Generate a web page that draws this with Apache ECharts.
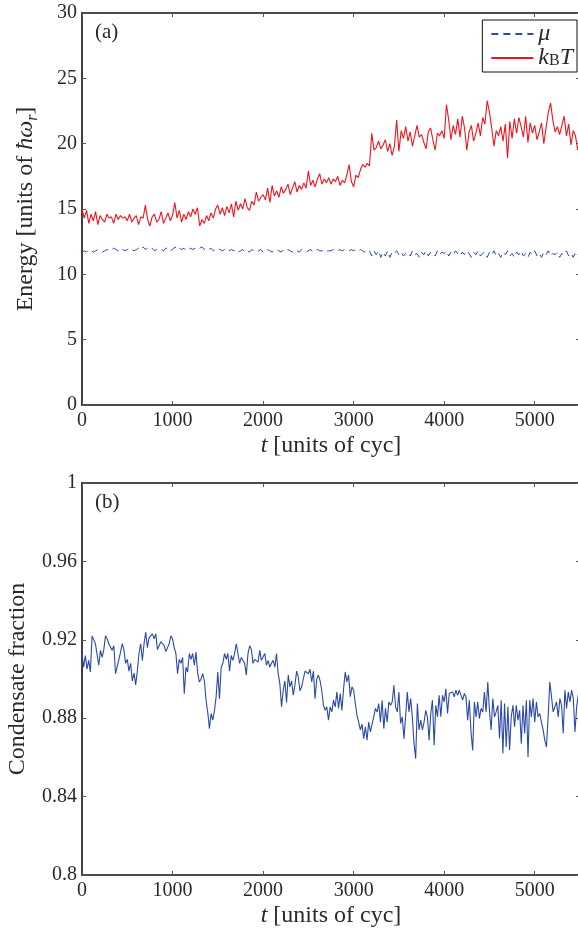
<!DOCTYPE html>
<html>
<head>
<meta charset="utf-8">
<script src="https://cdn.jsdelivr.net/npm/echarts@6/dist/echarts.min.js"></script>
<style>
html,body{margin:0;padding:0;background:#fff;}
#chart{width:578px;height:930px;}
</style>
</head>
<body>
<div id="chart"></div>
<script>
// ---- data ----
const T_MAX = 5500;
const xTicks = [0, 1000, 2000, 3000, 4000, 5000];

// k_B T, sampled evenly over 0..5500
const kBT = [
15.0,14.3,14.9,13.9,14.6,14.1,14.8,13.8,14.5,14.2,
14.0,14.6,14.3,14.4,13.9,14.6,14.2,14.5,14.3,14.4,
14.1,14.6,14.0,14.3,14.5,13.8,14.4,14.3,15.3,14.2,
13.7,14.4,14.6,14.0,14.2,14.8,13.9,14.3,14.7,14.1,
14.5,15.5,14.3,14.9,14.0,14.6,14.2,14.8,14.4,15.0,
14.6,15.1,13.7,14.2,13.9,14.5,14.1,14.7,14.3,15.0,
15.3,14.6,15.1,14.5,15.2,14.7,15.4,14.4,15.6,14.9,
15.4,15.0,15.8,15.1,14.9,15.6,15.3,16.3,15.6,15.9,
16.1,15.7,16.6,15.5,16.8,16.0,16.4,15.9,16.7,16.2,
16.5,16.9,16.1,16.6,17.1,16.3,16.8,16.5,17.0,16.6,
17.9,16.8,17.2,16.7,17.3,17.7,16.9,17.3,17.0,17.4,
16.9,17.3,17.1,17.5,16.8,17.2,17.0,17.6,18.4,17.1,
16.7,17.6,17.4,18.0,18.4,18.2,18.5,18.3,20.8,19.5,
19.7,20.2,19.6,19.9,20.3,19.4,20.0,19.1,19.8,21.8,
19.4,21.0,20.4,21.3,20.2,20.9,19.8,20.6,21.4,20.5,
20.7,20.1,19.6,20.9,21.2,20.3,19.5,20.8,20.6,21.0,
20.4,23.0,21.8,20.3,21.4,20.7,21.9,20.5,22.1,21.2,
19.5,20.9,21.4,20.2,20.8,21.6,20.6,22.0,21.5,23.3,
22.4,21.2,19.8,21.0,20.6,21.3,20.2,21.5,18.9,21.7,
20.4,21.9,20.8,22.0,21.3,20.5,22.1,20.1,21.6,20.8,
21.4,20.3,20.9,21.6,20.0,21.2,22.4,23.1,21.8,20.9,
21.3,20.7,21.4,22.1,20.6,21.5,19.9,21.0,20.6,19.5,
20.5
];

// mu, sampled evenly over 0..5500
const mu = [
11.7,11.8,11.7,11.9,11.8,11.7,11.8,11.9,11.8,11.7,
11.8,11.9,11.8,11.9,12.0,11.9,11.8,12.0,11.9,11.8,
11.9,12.0,11.9,11.8,11.9,12.0,11.9,12.1,11.9,12.0,
11.9,12.0,11.8,11.9,12.0,11.9,11.8,12.0,12.0,11.8,
11.9,12.1,11.9,12.0,11.9,12.0,11.8,11.9,12.0,11.9,
12.0,11.9,12.0,12.1,11.9,12.0,11.9,12.0,11.8,11.9,
12.0,11.9,11.8,11.9,12.0,11.8,11.9,11.8,11.9,11.7,
11.8,11.9,11.7,11.8,11.7,11.9,11.8,11.7,11.8,11.9,
11.7,11.8,11.9,11.8,11.7,11.8,11.9,11.8,11.7,11.9,
11.8,11.9,11.8,11.7,11.9,11.8,11.7,11.9,11.8,11.7,
11.8,11.9,11.7,11.8,11.9,11.8,11.8,11.9,11.8,11.8,
11.8,11.9,11.8,11.8,11.9,11.8,11.9,11.8,11.8,11.9,
11.8,11.9,11.8,11.9,11.8,11.7,11.9,11.8,11.4,11.8,
11.5,11.8,11.3,11.7,11.4,11.8,11.3,11.7,11.6,11.8,
11.5,11.7,11.4,11.6,11.7,11.4,11.8,11.5,11.6,11.3,
11.7,11.5,11.8,11.4,11.7,11.6,11.4,11.8,11.5,11.7,
11.6,11.8,11.4,11.7,11.5,11.8,11.6,11.4,11.7,11.5,
11.8,11.6,11.3,11.7,11.5,11.8,11.4,11.6,11.7,11.3,
11.7,11.5,11.8,11.4,11.6,11.3,11.7,11.5,11.8,11.4,
11.6,11.3,11.7,11.5,11.8,11.4,11.6,11.3,11.7,11.5,
11.8,11.4,11.6,11.3,11.7,11.5,11.8,11.4,11.6,11.5,
11.7,11.3,11.6,11.5,11.8,11.4,11.6,11.3,11.7,11.5,
11.7
];

// condensate fraction, sampled evenly over 0..5500
const condFrac = [
0.913,0.906,0.912,0.905,0.9095,0.9036,0.922,0.9227,0.918,0.9188,
0.907,0.9146,0.911,0.915,0.922,0.9205,0.918,0.918,0.9146,0.917,
0.9027,0.9027,0.910,0.9137,0.918,0.915,0.908,0.910,0.904,0.908,
0.899,0.903,0.897,0.904,0.913,0.918,0.9095,0.918,0.924,0.916,
0.921,0.922,0.923,0.9205,0.923,0.915,0.9146,0.919,0.920,0.917,
0.914,0.916,0.918,0.922,0.9205,0.916,0.913,0.9027,0.910,0.908,
0.911,0.8925,0.906,0.9036,0.913,0.910,0.913,0.907,0.9137,0.9027,
0.8985,0.900,0.9027,0.899,0.889,0.883,0.8747,0.8824,0.879,0.884,
0.891,0.9036,0.890,0.906,0.908,0.913,0.910,0.913,0.904,0.912,
0.9095,0.913,0.918,0.913,0.908,0.911,0.912,0.908,0.902,0.913,
0.917,0.915,0.908,0.910,0.911,0.9086,0.9146,0.9095,0.9086,0.913,
0.907,0.9095,0.906,0.908,0.9095,0.906,0.913,0.9027,0.8976,0.8858,
0.8942,0.899,0.888,0.902,0.896,0.899,0.8917,0.897,0.904,0.901,
0.894,0.896,0.900,0.904,0.904,0.9027,0.905,0.8985,0.904,0.890,
0.900,0.902,0.899,0.894,0.8866,0.884,0.8858,0.879,0.8858,0.8832,
0.8892,0.8858,0.8934,0.885,0.8926,0.884,0.895,0.9036,0.8985,0.902,
0.891,0.896,0.8943,0.8875,0.8815,0.878,0.874,0.877,0.8696,0.8756,
0.8688,0.878,0.873,0.874,0.8807,0.885,0.8832,0.8875,0.878,0.8892,
0.8747,0.885,0.878,0.8883,0.8866,0.8883,0.8968,0.8858,0.8832,0.8934,
0.8773,0.8807,0.8696,0.8807,0.8934,0.8832,0.890,0.8807,0.867,0.8594,
0.8875,0.874,0.879,0.874,0.878,0.884,0.8807,0.8688,0.8824,0.8892,
0.8662,0.8866,0.8807,0.8917,0.8807,0.8917,0.8883,0.895,0.8824,0.8926,
0.8917,0.8934,0.8909,0.8943,0.8917,0.8943,0.8934,0.8892,0.8926,0.8909,
0.879,0.8892,0.873,0.8636,0.8883,0.8807,0.8883,0.8798,0.885,0.8832,
0.8934,0.8832,0.8985,0.884,0.874,0.890,0.8807,0.8832,0.8866,0.8696,
0.8892,0.862,0.8875,0.8653,0.8858,0.8636,0.8807,0.8866,0.8756,0.8866,
0.879,0.884,0.867,0.8866,0.8722,0.8892,0.8602,0.8892,0.8807,0.890,
0.878,0.8883,0.8807,0.8824,0.878,0.874,0.8688,0.8653,0.8807,0.8985,
0.891,0.8832,0.884,0.8883,0.8807,0.890,0.8866,0.8722,0.8943,0.885,
0.8934,0.8883,0.8943,0.890,0.873,0.8858,0.892,0.880
];

// ---- build pairs over an even time grid ----
function pairs(vals) {
  const step = T_MAX / (vals.length - 1);
  return vals.map((v, i) => [i * step, v]);
}

const FONT = 'Liberation Serif';
const AX = '#111';
const TXT = '#2a2a2a';
const NAME_SIZE = 24;

function plainNum(v) { return String(Math.round(v * 1000) / 1000); }

function xAxisMain(grid) {
  return {
    gridIndex: grid, type: 'value', position: 'bottom',
    min: 0, max: T_MAX, interval: 1000,
    axisLine: { show: true, onZero: false, lineStyle: { color: AX, width: 1.6 } },
    axisTick: { show: true, inside: true, length: 4, lineStyle: { color: '#555', width: 1 } },
    axisLabel: { show: true, margin: 6, showMaxLabel: false, color: TXT, fontFamily: FONT, fontSize: 20, formatter: plainNum },
    splitLine: { show: false },
    name: '{i|t} [units of cyc]',
    nameLocation: 'middle', nameGap: 29,
    nameTextStyle: {
      color: TXT, fontFamily: FONT, fontSize: NAME_SIZE,
      rich: { i: { fontStyle: 'italic', fontFamily: FONT, fontSize: NAME_SIZE, color: TXT } }
    }
  };
}
function xAxisTop(grid) {
  return {
    gridIndex: grid, type: 'value', position: 'top',
    min: 0, max: T_MAX, interval: 1000,
    axisLine: { show: true, onZero: false, lineStyle: { color: AX, width: 1.6 } },
    axisTick: { show: true, inside: true, length: 4, lineStyle: { color: '#555', width: 1 } },
    axisLabel: { show: false }, splitLine: { show: false }
  };
}
function yAxisMain(grid, min, max, interval, name, nameGap, rich) {
  return {
    gridIndex: grid, type: 'value', position: 'left',
    min: min, max: max, interval: interval,
    axisLine: { show: true, onZero: false, lineStyle: { color: AX, width: 1.6 } },
    axisTick: { show: true, inside: true, length: 4, lineStyle: { color: '#555', width: 1 } },
    axisLabel: { show: true, margin: 5, color: TXT, fontFamily: FONT, fontSize: 20, formatter: plainNum },
    splitLine: { show: false },
    name: name, nameLocation: 'middle', nameGap: nameGap,
    nameTextStyle: { color: TXT, fontFamily: FONT, fontSize: NAME_SIZE, rich: rich }
  };
}
function yAxisRight(grid, min, max, interval) {
  return {
    gridIndex: grid, type: 'value', position: 'right',
    min: min, max: max, interval: interval,
    axisLine: { show: true, onZero: false, lineStyle: { color: AX, width: 1.6 } },
    axisTick: { show: true, inside: true, length: 4, lineStyle: { color: '#555', width: 1 } },
    axisLabel: { show: false }, splitLine: { show: false }
  };
}

const energyRich = {
  n: { fontFamily: FONT, fontSize: NAME_SIZE, color: TXT, lineHeight: 30 },
  i: { fontFamily: FONT, fontSize: NAME_SIZE, fontStyle: 'italic', color: TXT, lineHeight: 30 },
  s: { fontFamily: FONT, fontSize: 16, fontStyle: 'italic', color: TXT, lineHeight: 16, verticalAlign: 'bottom' }
};
const condRich = {
  n: { fontFamily: FONT, fontSize: NAME_SIZE, color: TXT }
};

const chart = echarts.init(document.getElementById('chart'), null, { renderer: 'canvas' });
chart.setOption({
  animation: false,
  backgroundColor: '#ffffff',
  grid: [
    { left: 82, top: 13, width: 498, height: 392, containLabel: false, outerBoundsMode: 'none' },
    { left: 82, top: 483, width: 498, height: 392, containLabel: false, outerBoundsMode: 'none' }
  ],
  xAxis: [xAxisMain(0), xAxisTop(0), xAxisMain(1), xAxisTop(1)],
  yAxis: [
    yAxisMain(0, 0, 30, 5, '{n|Energy [units of }{i|ħω}{s|r}{n|]}', 41, energyRich),
    yAxisRight(0, 0, 30, 5),
    yAxisMain(1, 0.8, 1, 0.04, '{n|Condensate fraction}', 52, condRich),
    yAxisRight(1, 0.8, 1, 0.04)
  ],
  legend: {
    show: true,
    data: ['mu', 'kBT'],
    orient: 'vertical',
    right: 1, top: 20,
    padding: [2, 4, 2, 8],
    itemGap: 0,
    itemWidth: 42, itemHeight: 14,
    borderColor: '#111', borderWidth: 1,
    backgroundColor: '#fff',
    selectedMode: false,
    itemStyle: { opacity: 0 },
    formatter: function (name) {
      return name === 'mu' ? '{i|μ}' : '{i|k}{s|B}{i|T}';
    },
    textStyle: {
      color: TXT, fontFamily: FONT, fontSize: 24,
      rich: {
        i: { fontFamily: FONT, fontSize: 24, fontStyle: 'italic', color: TXT, lineHeight: 22 },
        s: { fontFamily: FONT, fontSize: 16, color: TXT, lineHeight: 15, verticalAlign: 'bottom' }
      }
    }
  },
  graphic: [
    { type: 'text', left: 95, top: 22, style: { text: '(a)', font: '21px "Liberation Serif"', fill: TXT } },
    { type: 'text', left: 95, top: 492, style: { text: '(b)', font: '21px "Liberation Serif"', fill: TXT } }
  ],
  series: [
    {
      name: 'mu', type: 'line', xAxisIndex: 0, yAxisIndex: 0,
      data: pairs(mu), symbol: 'none', showSymbol: false,
      lineStyle: { color: '#2b4aa6', width: 1, type: [7, 5] },
      itemStyle: { color: '#2b4aa6' }, z: 3
    },
    {
      name: 'kBT', type: 'line', xAxisIndex: 0, yAxisIndex: 0,
      data: pairs(kBT), symbol: 'none', showSymbol: false,
      lineStyle: { color: '#f0141e', width: 1.1 },
      itemStyle: { color: '#f0141e' }, z: 3
    },
    {
      name: 'cond', type: 'line', xAxisIndex: 2, yAxisIndex: 2,
      data: pairs(condFrac), symbol: 'none', showSymbol: false,
      lineStyle: { color: '#2b4aa6', width: 1.1 },
      itemStyle: { color: '#2b4aa6' }, z: 3
    }
  ]
});
</script>
</body>
</html>
